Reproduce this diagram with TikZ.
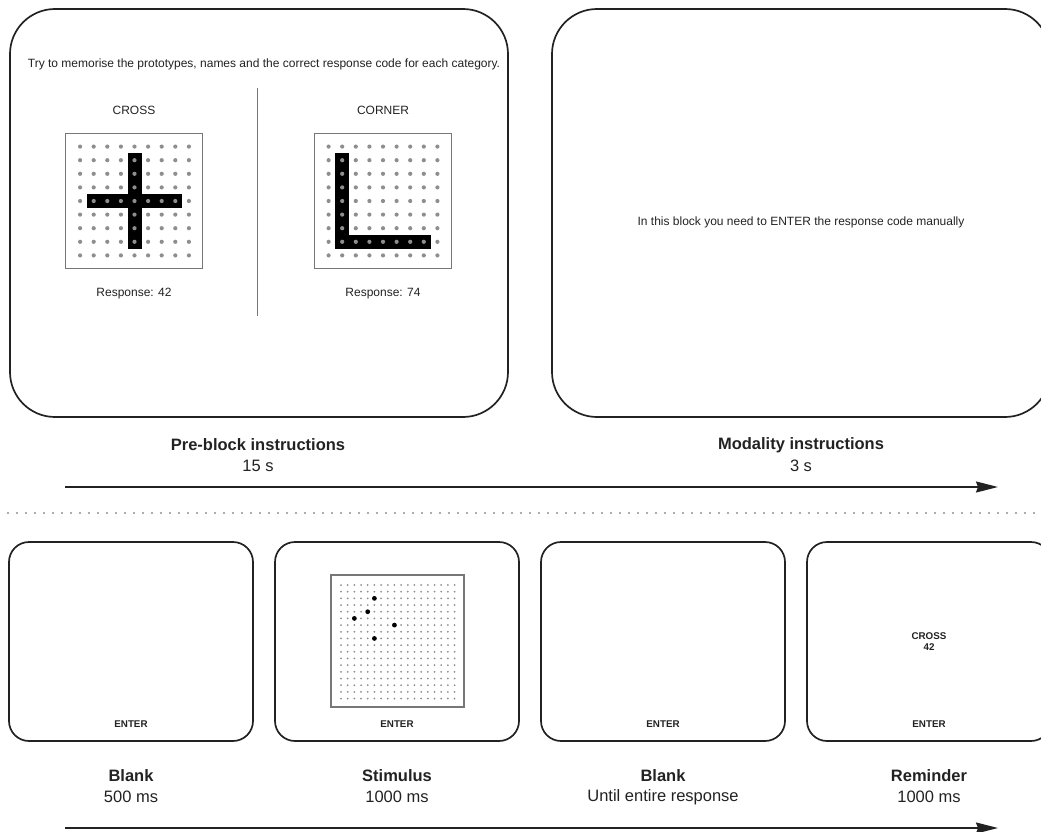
\documentclass[tikz,border=0pt]{standalone}
\usepackage{fontspec}
\setmainfont{Liberation Sans}
\usetikzlibrary{arrows.meta}
\definecolor{ink}{HTML}{222222}
\definecolor{dotgray}{HTML}{8E8E8E}
\definecolor{framegray}{HTML}{777777}
\tikzset{
  bigscreen/.style={draw=ink, line width=1.7pt, rounded corners=45pt, minimum width=498pt, minimum height=408pt, inner sep=0pt},
  smallscreen/.style={draw=ink, line width=1.7pt, rounded corners=20pt, minimum width=244pt, minimum height=199pt, inner sep=0pt},
  protoframe/.style={draw=framegray, line width=0.8pt, minimum width=137pt, minimum height=135pt, inner sep=0pt},
  stimframe/.style={draw=framegray, line width=1.3pt, minimum width=133pt, minimum height=132pt, inner sep=0pt},
  smalltext/.style={font=\fontsize{12}{14}\selectfont, text=ink, inner sep=0pt},
  phase/.style={font=\bfseries\fontsize{16.5}{20}\selectfont, text=ink, inner sep=0pt},
  dur/.style={font=\fontsize{16.5}{20}\selectfont, text=ink, inner sep=0pt},
  keytext/.style={font=\bfseries\fontsize{9.8}{11}\selectfont, text=ink, inner sep=0pt},
  timearrow/.style={draw=ink, line width=1.8pt, -{Stealth[length=22pt,width=11pt,inset=2pt]}},
}
\begin{document}
\begin{tikzpicture}[x=1pt,y=-1pt]
\useasboundingbox (0,0) rectangle (1041,832);
\clip (0,0) rectangle (1041,832);

% ---------- top screens ----------
\node[bigscreen] (pre) at (259,213) {};
\node[bigscreen] (mod) at (801,213) {};

\node[smalltext] (instr) at (264,64) {Try to memorise the prototypes, names and the correct response code for each category.};

% divider
\coordinate (divtop) at (257,88);
\coordinate (divbot) at (257,316);
\draw[draw=framegray, line width=0.8pt] (divtop) -- (divbot);

% cross prototype
\node[smalltext] (crossname) at (134,110) {CROSS};
\node[protoframe] (crossframe) at (134,200.5) {};
\fill[black] (134.5-7,201-3*13.6-7) rectangle (134.5+7,201+3*13.6+7);
\fill[black] (134.5-3*13.6-7,201-7) rectangle (134.5+3*13.6+7,201+7);
\foreach \i in {-4,...,4}{
  \foreach \j in {-4,...,4}{
    \fill[dotgray] (134.5+\i*13.6,201+\j*13.6) circle (2.1pt);
  }
}
\node[smalltext] (crossresp) at (134,294) {Response: 42};

% corner prototype
\node[smalltext] (cornername) at (383,110) {CORNER};
\node[protoframe] (cornerframe) at (383,200.5) {};
\fill[black] (383-3*13.6-7,201-3*13.6-7) rectangle (383-3*13.6+7,201+3*13.6+7);
\fill[black] (383-3*13.6-7,201+3*13.6-7) rectangle (383+3*13.6+7,201+3*13.6+7);
\foreach \i in {-4,...,4}{
  \foreach \j in {-4,...,4}{
    \fill[dotgray] (383+\i*13.6,201+\j*13.6) circle (2.1pt);
  }
}
\node[smalltext] (cornerresp) at (383,294) {Response: 74};

% modality
\node[smalltext] (modtext) at (801,222) {In this block you need to ENTER the response code manually};

% labels top
\node[phase] (prelab) at (258,445) {Pre-block instructions};
\node[dur] (predur) at (258,466) {15 s};
\node[phase] (modlab) at (801,445) {Modality instructions};
\node[dur] (moddur) at (801,466) {3 s};

\coordinate (ta) at (65,487);
\coordinate (tb) at (998,487);
\draw[timearrow] (ta) -- (tb);

% dotted separator
\coordinate (sepa) at (8,513);
\coordinate (sepb) at (1045,513);
\draw[draw=ink!75, line width=1.7pt, line cap=round, dash pattern=on 0pt off 9pt] (sepa) -- (sepb);

% ---------- bottom screens ----------
\node[smallscreen] (b1) at (131,641.5) {};
\node[smallscreen] (b2) at (397,641.5) {};
\node[smallscreen] (b3) at (663,641.5) {};
\node[smallscreen] (b4) at (929,641.5) {};

\foreach \n/\x in {e1/131,e2/397,e3/663,e4/929}{
  \node[keytext] (\n) at (\x,724) {ENTER};
}

% stimulus
\node[stimframe] (stim) at (397.5,641) {};
\foreach \i in {0,...,17}{
  \foreach \j in {0,...,17}{
    \fill[dotgray] (341+\i*6.68,585+\j*6.68) circle (1.0pt);
  }
}
\foreach \i/\j in {5/2,4/4,2/5,8/6,5/8}{
  \fill[black] (341+\i*6.68,585+\j*6.68) circle (2.4pt);
}

% reminder
\node[keytext] (remname) at (929,636) {CROSS};
\node[keytext] (remcode) at (929,647) {42};

% labels bottom
\node[phase] (l1) at (131,776) {Blank};
\node[dur] (d1) at (131,797) {500 ms};
\node[phase] (l2) at (397,776) {Stimulus};
\node[dur] (d2) at (397,797) {1000 ms};
\node[phase] (l3) at (663,776) {Blank};
\node[dur] (d3) at (663,797) {Until entire response};
\node[phase] (l4) at (929,776) {Reminder};
\node[dur] (d4) at (929,797) {1000 ms};

\coordinate (ba) at (65,828);
\coordinate (bb) at (998,828);
\draw[timearrow] (ba) -- (bb);
\end{tikzpicture}
\end{document}
